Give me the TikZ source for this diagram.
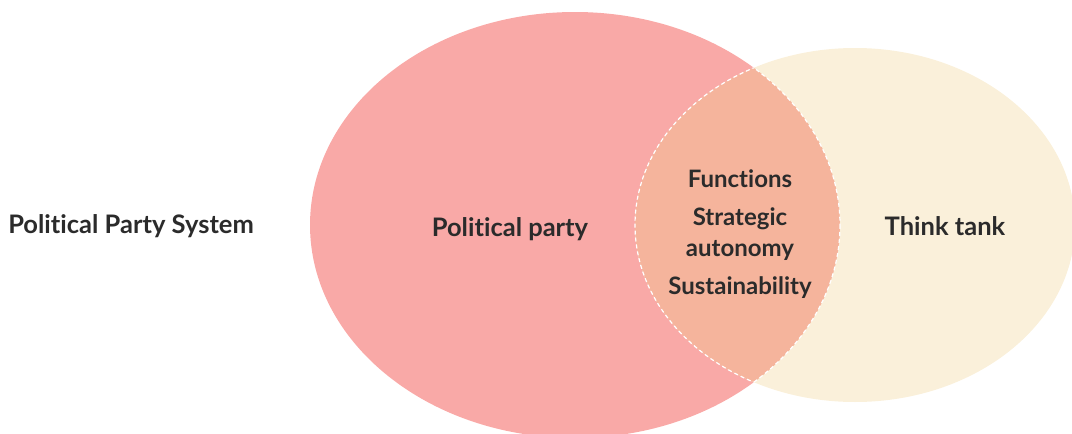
\documentclass[tikz,border=0pt]{standalone}
\usepackage{fontspec}
\setmainfont[Ligatures=NoCommon]{Lato}
\usetikzlibrary{positioning}
\definecolor{partypink}{HTML}{F9A9A7}
\definecolor{tankcream}{HTML}{FAF0DA}
\definecolor{overlap}{HTML}{F5B49C}
\definecolor{ink}{HTML}{2B2B2B}
\tikzset{
	label/.style={font=\bfseries\fontsize{25.5}{28}\selectfont,text=ink,inner sep=0pt},
	item/.style={font=\bfseries\fontsize{24}{31}\selectfont,text=ink,inner sep=0pt,align=center},
	lens/.style={draw=white,line width=1.2pt,dash pattern=on 4pt off 3pt}
}
\begin{document}
\begin{tikzpicture}[x=1pt,y=-1pt]
	\useasboundingbox (0,0) rectangle (1072,434);
	\coordinate (P) at (575,225);
	\coordinate (T) at (855,225);
	% the two sets
	\fill[partypink] (P) ellipse [x radius=265,y radius=213];
	\fill[tankcream] (T) ellipse [x radius=220,y radius=177];
	\begin{scope}
		\clip (P) ellipse [x radius=265,y radius=213];
		\fill[overlap] (T) ellipse [x radius=220,y radius=177];
	\end{scope}
	% dashed rim of the overlap
	\begin{scope}
		\clip (T) ellipse [x radius=220,y radius=177];
		\draw[lens] (P) ellipse [x radius=265,y radius=213];
	\end{scope}
	\begin{scope}
		\clip (P) ellipse [x radius=265,y radius=213];
		\draw[lens] (T) ellipse [x radius=220,y radius=177];
	\end{scope}
	\node[label,anchor=base] (sys) at (131,233) {Political Party System};
	\node[label,anchor=base] (party) at (510,236) {Political party};
	\node[label,anchor=base] (tank) at (945,235) {Think tank};
	\node[item,anchor=base] (fun) at (740,187) {Functions};
	\node[item] (auto) at (740,234) {Strategic\\autonomy};
	\node[item,anchor=base] (sus) at (740,294) {Sustainability};
\end{tikzpicture}
\end{document}
